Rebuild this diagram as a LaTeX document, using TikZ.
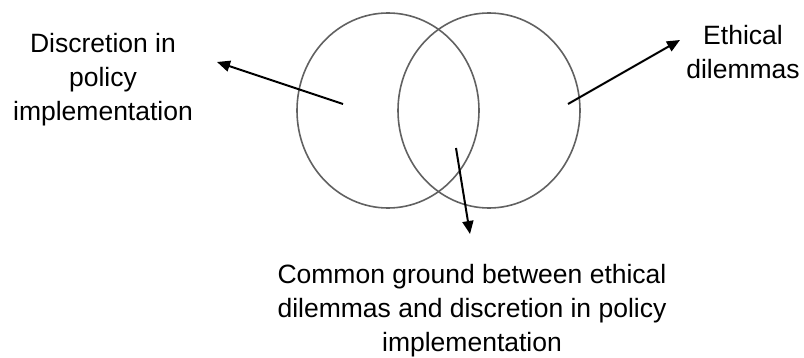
\documentclass[tikz,border=0pt]{standalone}
\usepackage{fontspec}
\setmainfont{Liberation Sans}
\usetikzlibrary{arrows.meta}
\begin{document}
\begin{tikzpicture}[x=1pt,y=-1pt,
  ring/.style={draw=black!62,line width=1.6pt},
  pointer/.style={draw=black,line width=2pt,-{Triangle[length=13pt,width=11pt]}},
  label/.style={align=center,inner sep=0pt,font=\fontsize{26.5}{34}\selectfont}]
\useasboundingbox (0,0) rectangle (804,358);
% the two overlapping sets
\draw[ring] (388,110.5) ellipse [x radius=91,y radius=97.5];
\draw[ring] (489,110.5) ellipse [x radius=91,y radius=97.5];
% anchor points inside the regions and arrow ends
\coordinate (inL) at (343,104);
\coordinate (inR) at (568,104);
\coordinate (inC) at (456,148);
\coordinate (toL) at (217,62);
\coordinate (toR) at (680,40);
\coordinate (toC) at (470,234);
% labels
\node[label] (discretion) at (103,80) {Discretion in\\policy\\implementation};
\node[label] (ethics) at (743,52) {Ethical\\dilemmas};
\node[label] (common) at (472,311) {Common ground between ethical\\dilemmas and discretion in policy\\implementation};
% arrows
\draw[pointer] (inL) -- (toL);
\draw[pointer] (inR) -- (toR);
\draw[pointer] (inC) -- (toC);
\end{tikzpicture}
\end{document}
